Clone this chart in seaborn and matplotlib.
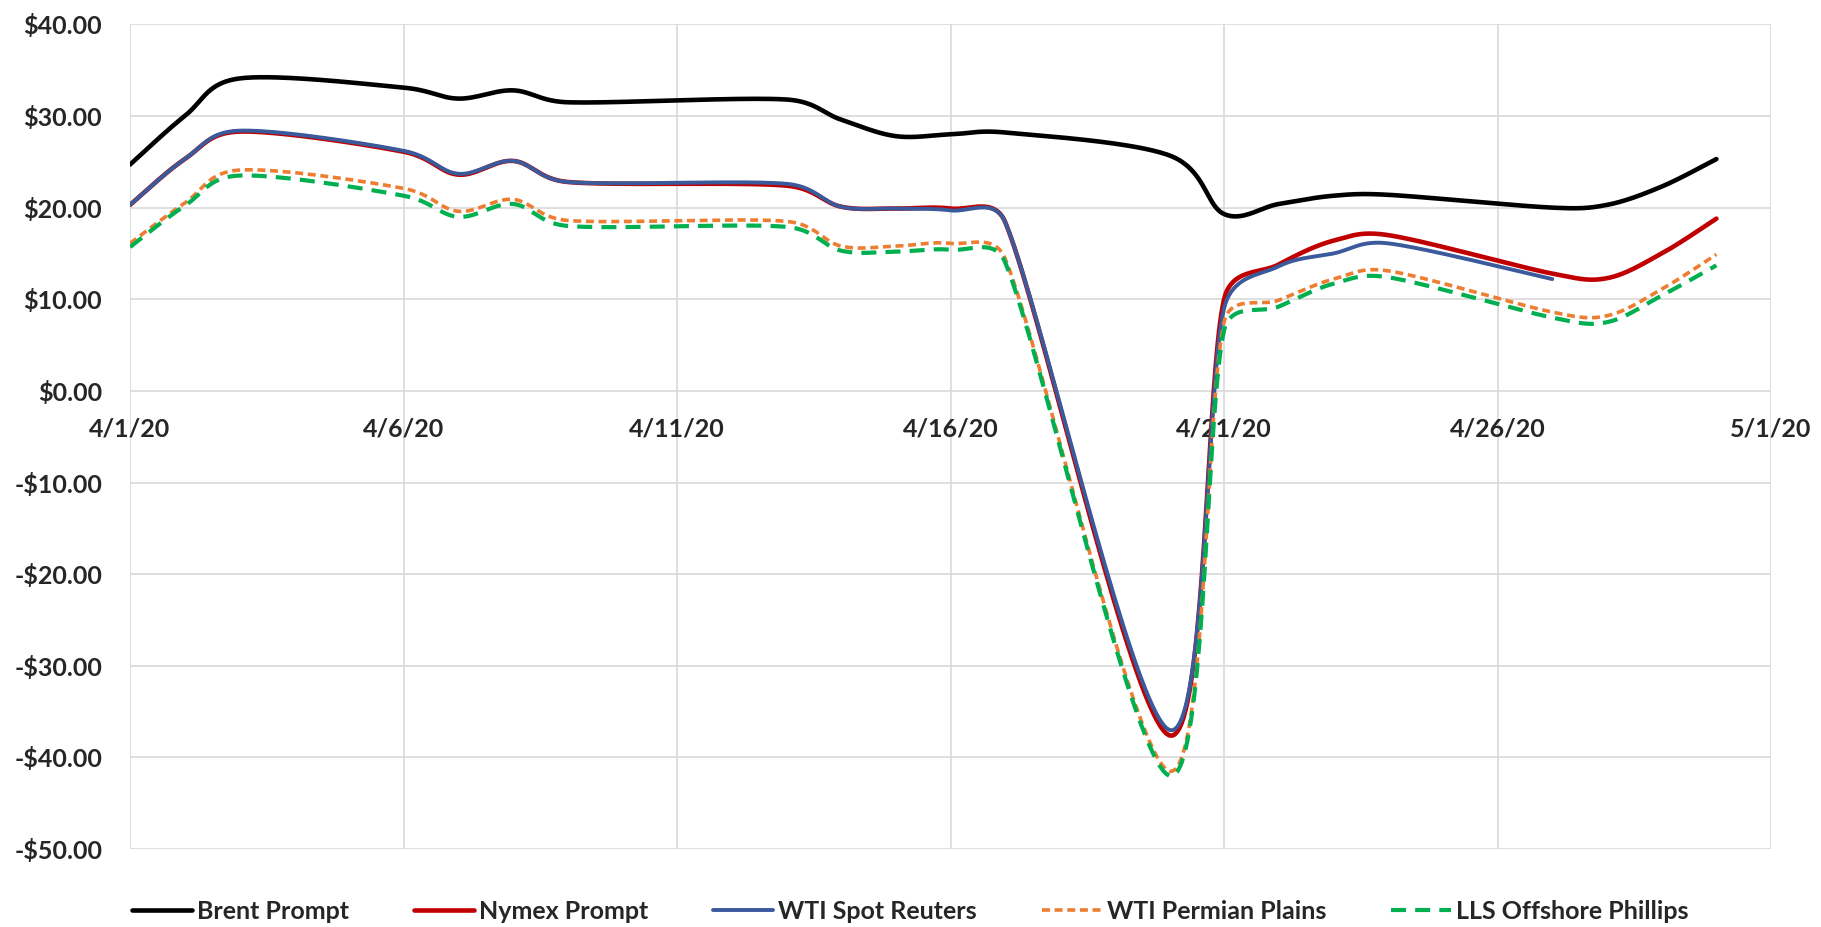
import numpy as np
import pandas as pd
import matplotlib
matplotlib.use('Agg')
import matplotlib.pyplot as plt
import matplotlib.dates as mdates
import seaborn as sns

# trading days shown on the chart
dates = ['2020-04-01', '2020-04-02', '2020-04-03', '2020-04-06', '2020-04-07',
         '2020-04-08', '2020-04-09', '2020-04-13', '2020-04-14', '2020-04-15',
         '2020-04-16', '2020-04-17', '2020-04-20', '2020-04-21', '2020-04-22',
         '2020-04-23', '2020-04-24', '2020-04-27', '2020-04-28', '2020-04-29',
         '2020-04-30']

brent = [24.7, 30.0, 34.1, 33.1, 31.9, 32.8, 31.5, 31.8, 29.6, 27.8, 28.0, 28.2,
         25.7, 19.3, 20.4, 21.3, 21.4, 20.0, 20.3, 22.3, 25.3]
nymex = [20.3, 25.3, 28.3, 26.1, 23.6, 25.1, 22.8, 22.4, 20.1, 19.9, 19.9, 18.4,
         -37.6, 10.0, 13.8, 16.4, 17.0, 12.8, 12.3, 15.0, 18.8]
wti_spot = [20.3, 25.3, 28.4, 26.2, 23.7, 25.1, 22.8, 22.6, 20.1, 19.9, 19.7, 18.4,
            -37.0, 9.0, 13.6, 15.0, 16.1, 12.2, np.nan, np.nan, np.nan]
permian = [16.1, 20.5, 24.1, 22.1, 19.6, 20.9, 18.6, 18.5, 15.8, 15.8, 16.1, 14.4,
           -41.5, 7.5, 9.9, 12.2, 13.1, 8.6, 8.2, 11.1, 14.9]
lls = [15.7, 20.2, 23.5, 21.3, 19.0, 20.4, 18.0, 17.9, 15.3, 15.2, 15.4, 14.0,
       -42.0, 6.6, 9.2, 11.7, 12.4, 8.0, 7.5, 10.4, 13.7]

series_names = ['Brent Prompt', 'Nymex Prompt', 'WTI Spot Reuters',
                'WTI Permian Plains', 'LLS Offshore Phillips']

# rough screen scale (px per day, px per dollar) used for the smoothing
PX_DAY, PX_USD = 54.7, 9.17


def excel_smooth(x, y, n=40):
    # bezier through the points, control arms capped at half the segment (like Excel)
    pts = np.column_stack([x * PX_DAY, y * PX_USD])
    pts = pts[~np.isnan(pts[:, 1])]
    out = []
    for i in range(len(pts) - 1):
        p0 = pts[i - 1] if i > 0 else pts[i]
        p1, p2 = pts[i], pts[i + 1]
        p3 = pts[i + 2] if i + 2 < len(pts) else pts[i + 1]
        d12 = np.hypot(*(p2 - p1))
        d02 = np.hypot(*(p2 - p0))
        d13 = np.hypot(*(p3 - p1))
        f1 = 1 / 6 if d02 / 6 <= d12 / 2 else d12 / (2 * d02)
        f2 = 1 / 6 if d13 / 6 <= d12 / 2 else d12 / (2 * d13)
        c1 = p1 + (p2 - p0) * f1
        c2 = p2 - (p3 - p1) * f2
        t = np.linspace(0, 1, n)[:, None]
        seg = ((1 - t) ** 3) * p1 + 3 * ((1 - t) ** 2) * t * c1 + 3 * (1 - t) * t ** 2 * c2 + t ** 3 * p2
        out.append(seg if i == 0 else seg[1:])
    seg = np.vstack(out)
    return seg[:, 0] / PX_DAY, seg[:, 1] / PX_USD


sns.set_theme(style='white')
plt.rcParams['font.family'] = ['Lato', 'DejaVu Sans']
plt.rcParams['font.weight'] = 'bold'

fig = plt.figure(figsize=(18.21, 9.27), dpi=100)
ax = fig.add_axes([0.0714, 0.0841, 0.9012, 0.8896])

x = mdates.date2num(pd.to_datetime(dates))

styles = [
    (brent, '#000000', 3.3, '-'),
    (nymex, '#c00000', 3.3, '-'),
    (wti_spot, '#3a5a9c', 2.8, '-'),
    (permian, '#ed7d31', 2.6, (0, (2.2, 1.3))),
    (lls, '#00b050', 3.0, (0, (3.6, 2.2))),
]
for (vals, color, lw, ls), name in zip(styles, series_names):
    xs, ys = excel_smooth(x, np.array(vals, dtype=float))
    sns.lineplot(x=xs, y=ys, sort=False, estimator=None, color=color, lw=lw,
                 linestyle=ls, solid_capstyle='round', dash_capstyle='butt',
                 label=name, ax=ax)

ax.set_xlim(mdates.date2num(pd.Timestamp('2020-04-01')), mdates.date2num(pd.Timestamp('2020-05-01')))
ax.set_ylim(-50, 40)
ax.set_xticks(mdates.date2num(pd.date_range('2020-04-01', '2020-05-01', freq='5D')))
ax.xaxis.set_major_formatter(mdates.DateFormatter('%-m/%-d/%y'))
ax.set_yticks(np.arange(-50, 41, 10))
ax.yaxis.set_major_formatter(lambda v, p: ('-$' if v < 0 else '$') + f'{abs(v):.2f}')

for s in ax.spines.values():
    s.set_visible(False)
ax.spines['bottom'].set_position(('data', 0))
ax.grid(True, color='#d9d9d9', lw=1.2)
ax.set_axisbelow(True)
ax.tick_params(axis='x', length=0, pad=19, labelsize=18)
ax.tick_params(axis='y', length=0, pad=20, labelsize=18)
for lab in ax.get_xticklabels() + ax.get_yticklabels():
    lab.set_fontweight('bold')
ax.set_xlabel('')
ax.set_ylabel('')

handles, labels = ax.get_legend_handles_labels()
ax.get_legend().remove()
fig.legend(handles, labels, loc='center', bbox_to_anchor=(0.5, 0.017), ncol=5,
           frameon=False, prop={'size': 18, 'weight': 'bold'},
           handlelength=2.4, handletextpad=0.2, columnspacing=2.6)

fig.savefig('out.png', dpi=100)
